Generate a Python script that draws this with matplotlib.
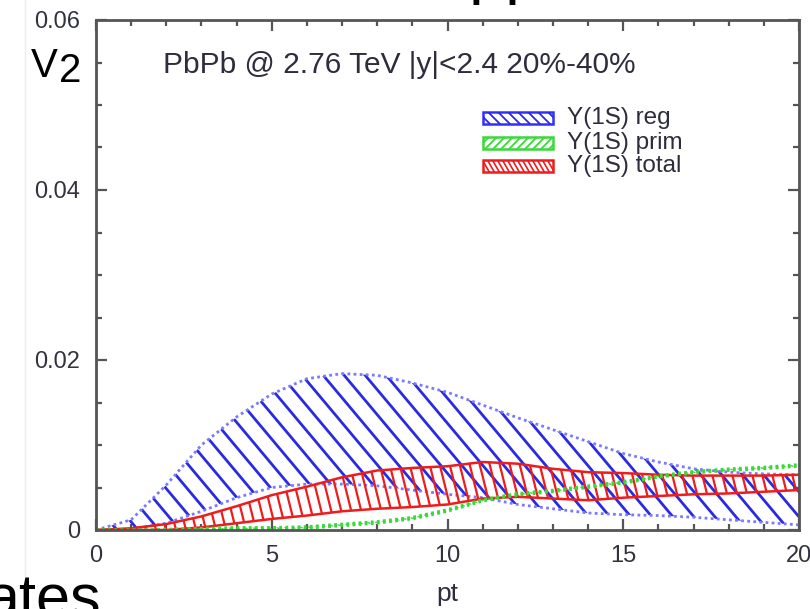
import numpy as np
import matplotlib
matplotlib.use("Agg")
import matplotlib.pyplot as plt
from matplotlib.path import Path
from matplotlib.collections import LineCollection
from matplotlib.patches import Rectangle
from matplotlib.ticker import MultipleLocator, FixedLocator, FixedFormatter

# ---------------- data ----------------
pt = [0, 1, 2, 3, 4, 5, 6, 7, 8, 9, 10, 11, 12, 13, 14, 15, 16, 17, 18, 19, 20]

reg_hi = [0.0, 0.0012, 0.0053, 0.0100, 0.0133, 0.0160, 0.0178, 0.0184, 0.0182, 0.0173,
          0.0162, 0.0147, 0.0132, 0.0118, 0.0104, 0.0090, 0.0080, 0.0072, 0.0068, 0.0066, 0.0065]
reg_lo = [0.0, 0.0001, 0.0008, 0.0022, 0.0038, 0.0050, 0.0054, 0.0054, 0.0052, 0.0047,
          0.0042, 0.0038, 0.0030, 0.0025, 0.0020, 0.0018, 0.0017, 0.0015, 0.0012, 0.0009, 0.0006]

prim_lo = [0.0, 0.0, 0.0, 0.0, 0.0001, 0.0001, 0.0002, 0.0005, 0.0008, 0.0013,
           0.0022, 0.0034, 0.0041, 0.0045, 0.0050, 0.0055, 0.0062, 0.0067, 0.0070, 0.0072, 0.0075]
prim_hi = [0.0, 0.0, 0.0001, 0.0002, 0.0003, 0.0003, 0.0004, 0.0007, 0.0010, 0.0015,
           0.0024, 0.0036, 0.0043, 0.0047, 0.0052, 0.0057, 0.0064, 0.0069, 0.0072, 0.0074, 0.0077]

total_hi = [0.0, 0.0002, 0.0007, 0.0016, 0.0028, 0.0041, 0.0051, 0.0062, 0.0070, 0.0073,
            0.0075, 0.0080, 0.0078, 0.0072, 0.0068, 0.0067, 0.0065, 0.0064, 0.0064, 0.0064, 0.0065]
total_lo = [0.0, 0.0, 0.0, 0.0003, 0.0008, 0.0013, 0.0017, 0.0022, 0.0025, 0.0027,
            0.0030, 0.0037, 0.0039, 0.0037, 0.0035, 0.0038, 0.0040, 0.0042, 0.0043, 0.0045, 0.0047]

series_labels = ["Y(1S) reg", "Y(1S) prim", "Y(1S) total"]

x_ticks = [0, 5, 10, 15, 20]
y_ticks = [0, 0.02, 0.04, 0.06]
y_tick_labels = ["0", "0.02", "0.04", "0.06"]

# ---------------- figure ----------------
W_PX, H_PX = 810, 609
fig = plt.figure(figsize=(W_PX / 100, H_PX / 100), dpi=100)
fig.patch.set_facecolor("white")
plt.rcParams["font.family"] = ["Liberation Sans", "DejaVu Sans"]


def fx(px):
    return px / W_PX


def fy(py):
    return 1 - py / H_PX


ax_l, ax_r, ax_t, ax_b = 96, 799, 20, 530
ax = fig.add_axes([fx(ax_l), fy(ax_b), fx(ax_r - ax_l), (ax_b - ax_t) / H_PX])
ax.set_xlim(0, 20)
ax.set_ylim(0, 0.06)
AX_W, AX_H = ax_r - ax_l, ax_b - ax_t


def hatch_lines(clip_path, clip_transform, angle, spacing, color, lw, zorder):
    """Parallel lines across the axes (in pixel geometry), clipped to a path."""
    t = np.tan(np.radians(angle))
    run = AX_H / t
    x0s = np.arange(-run - spacing, AX_W + spacing, spacing)
    segs = [[((x0) / AX_W, 1.0), ((x0 + run) / AX_W, 0.0)] for x0 in x0s]
    lc = LineCollection(segs, colors=color, linewidths=lw, transform=ax.transAxes,
                        zorder=zorder, capstyle="butt")
    ax.add_collection(lc)
    lc.set_clip_path(clip_path, clip_transform)
    return lc


def band(x, lo, hi, angle, spacing, hatch_color, hatch_lw, edge_color, edge_ls, edge_lw, z):
    x = np.asarray(x, float)
    lo = np.asarray(lo, float)
    hi = np.asarray(hi, float)
    verts = np.column_stack([np.r_[x, x[::-1]], np.r_[hi, lo[::-1]]])
    path = Path(np.vstack([verts, verts[:1]]), closed=True)
    hatch_lines(path, ax.transData, angle, spacing, hatch_color, hatch_lw, z)
    ax.plot(x, hi, color=edge_color, ls=edge_ls, lw=edge_lw, zorder=z + 0.1)
    ax.plot(x, lo, color=edge_color, ls=edge_ls, lw=edge_lw, zorder=z + 0.1)


band(pt, reg_lo, reg_hi, 50, 21, "#2a2ae0", 2.0, "#7a7aff", (0, (1, 1.2)), 2.0, 2)
band(pt, total_lo, total_hi, 76, 10, "#ee1c1c", 1.6, "#ee1c1c", "-", 1.8, 3)
band(pt, prim_lo, prim_hi, 45, 8, "#3ad83a", 1.2, "#3ad83a", (0, (1, 1.2)), 2.0, 4)

# ---------------- axes styling ----------------
for sp in ax.spines.values():
    sp.set_color("#555555")
    sp.set_linewidth(2.0)
    sp.set_zorder(10)

ax.xaxis.set_major_locator(FixedLocator(x_ticks))
ax.xaxis.set_minor_locator(MultipleLocator(1))
ax.yaxis.set_major_locator(FixedLocator(y_ticks))
ax.yaxis.set_major_formatter(FixedFormatter(y_tick_labels))
ax.yaxis.set_minor_locator(MultipleLocator(0.005))
ax.tick_params(which="both", direction="in", top=True, right=True,
               color="#555555", width=1.6, labelsize=17, labelcolor="#33333f")
ax.tick_params(which="major", length=8)
ax.tick_params(which="minor", length=4)
ax.tick_params(axis="x", which="major", pad=11)
ax.tick_params(axis="y", which="major", pad=11.5)

# in-plot annotation
ax.text((163 - ax_l) / AX_W, (ax_b - 73) / AX_H,
        "PbPb @ 2.76 TeV |y|<2.4 20%-40%", transform=ax.transAxes,
        fontsize=21.5, color="#2d2d3d", va="baseline", ha="left")

# legend drawn by hand
leg_rows = [
    (118, 45, 10, "#2a2ae0", 1.3, "#3030ff"),
    (143, 135, 8, "#3ad83a", 1.3, "#3ad83a"),
    (166, 60, 5, "#ee1c1c", 1.2, "#ee1c1c"),
]
leg_baselines = [124, 149, 172]
for (cy, ang, sp_, hc, hlw, ec), lab, bl in zip(leg_rows, series_labels, leg_baselines):
    x0 = (483 - ax_l) / AX_W
    y0 = (ax_b - (cy + 6)) / AX_H
    w = 70 / AX_W
    h = 12 / AX_H
    rect = Rectangle((x0, y0), w, h, transform=ax.transAxes, facecolor="white",
                     edgecolor=ec, lw=1.8, zorder=6)
    ax.add_patch(rect)
    rp = Path([(x0, y0), (x0 + w, y0), (x0 + w, y0 + h), (x0, y0 + h), (x0, y0)], closed=True)
    hatch_lines(rp, ax.transAxes, ang, sp_, hc, hlw, 7)
    ax.text((567 - ax_l) / AX_W, (ax_b - bl) / AX_H, lab, transform=ax.transAxes,
            fontsize=17.5, color="#2d2d3d", va="baseline", ha="left", zorder=8)

# x axis title
fig.text(fx(447), fy(601), "pt", fontsize=19, color="#2d2d3d", ha="center", va="baseline")

# surrounding slide text
fig.text(fx(31), fy(77), "V", fontsize=29, color="black", va="baseline", ha="left")
fig.text(fx(59), fy(82), "2", fontsize=29, color="black", va="baseline", ha="left")
fig.text(fx(-15), fy(617), "ates", fontsize=44, color="black", va="baseline", ha="left")
fig.text(fx(469), fy(-9), "pp", fontsize=48, color="black", va="baseline", ha="left")
fig.add_artist(plt.Line2D([fx(25), fx(25)], [0, 1], color="#ececec", lw=1.0,
                          transform=fig.transFigure))

fig.savefig("out.png", dpi=100, facecolor="white")
